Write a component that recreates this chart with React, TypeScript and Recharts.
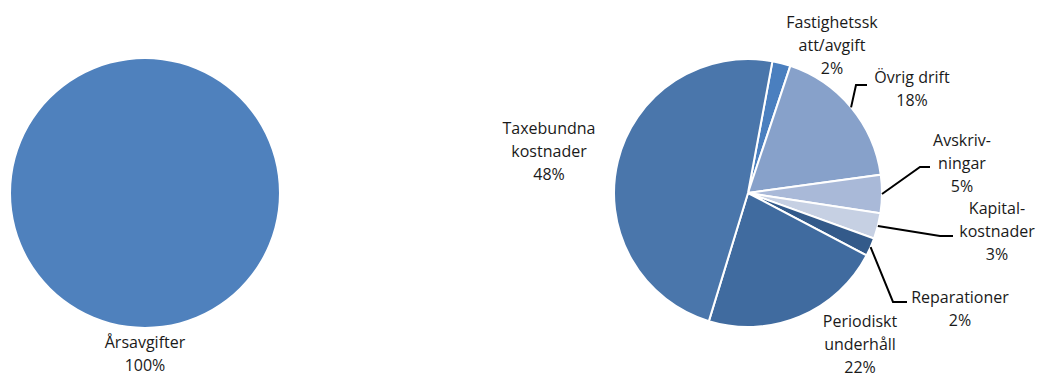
import React from 'react';
import { PieChart, Pie, Cell } from 'recharts';

// ---- Data ----
const incomeCategories = ['Årsavgifter'];
const incomeValues = [100];
const incomeLabelLines = [['Årsavgifter']];

const costCategories = [
  'Fastighetsskatt/avgift',
  'Övrig drift',
  'Avskrivningar',
  'Kapitalkostnader',
  'Reparationer',
  'Periodiskt underhåll',
  'Taxebundna kostnader',
];
const costValues = [2.2, 17.7, 4.6, 3.1, 2.2, 22.0, 48.2];
const costLabelLines = [
  ['Fastighetssk', 'att/avgift'],
  ['Övrig drift'],
  ['Avskriv-', 'ningar'],
  ['Kapital-', 'kostnader'],
  ['Reparationer'],
  ['Periodiskt', 'underhåll'],
  ['Taxebundna', 'kostnader'],
];

// ---- Style ----
const incomeColors = ['#4f81bd'];
const costColors = ['#4a7fbf', '#87a1ca', '#a9b9d8', '#c6d0e3', '#335a8a', '#406b9f', '#4a76ab'];

// label text positions relative to pie centre; elbow/end of leader line relative to pie centre
type Layout = { tx: number; ty: number; elbow?: [number, number]; end?: [number, number] };
const incomeLabelLayout: Layout[] = [{ tx: 0, ty: 149 }];
const costLabelLayout: Layout[] = [
  { tx: 84, ty: -171 },
  { tx: 164, ty: -116, elbow: [108, -108], end: [119, -108] },
  { tx: 214, ty: -53, elbow: [172, -26], end: [182, -26] },
  { tx: 249, ty: 15, elbow: [192, 43], end: [205, 43] },
  { tx: 212, ty: 104, elbow: [145, 109], end: [159, 109] },
  { tx: 112, ty: 128 },
  { tx: -199, ty: -65 },
];

const FONT = '"Open Sans", "DejaVu Sans", sans-serif';
const LINE_H = 23;
const RAD = Math.PI / 180;

const toData = (cats: string[], vals: number[]) => cats.map((name, i) => ({ name, value: vals[i] }));
const incomeData = toData(incomeCategories, incomeValues);
const costData = toData(costCategories, costValues);

const makeLabel = (layouts: Layout[], lines: string[][], values: number[]) => (props: any) => {
  const { cx, cy, midAngle, outerRadius, index } = props;
  const total = values.reduce((a, b) => a + b, 0);
  const pct = Math.round((values[index] / total) * 100);
  const lay = layouts[index];
  const x = cx + lay.tx;
  const y = cy + lay.ty;
  const textLines = [...lines[index], `${pct}%`];
  let leader = null;
  if (lay.elbow && lay.end) {
    const sx = cx + outerRadius * Math.cos(-midAngle * RAD);
    const sy = cy + outerRadius * Math.sin(-midAngle * RAD);
    const pts = `${sx},${sy} ${cx + lay.elbow[0]},${cy + lay.elbow[1]} ${cx + lay.end[0]},${cy + lay.end[1]}`;
    leader = <polyline points={pts} fill="none" stroke="#000" strokeWidth={2} />;
  }
  return (
    <g key={`lbl-${index}`}>
      {leader}
      <text x={x} y={y} textAnchor="middle" fill="#1a1a1a" fontSize={16} fontFamily={FONT}>
        {textLines.map((t, i) => (
          <tspan key={i} x={x} y={y + i * LINE_H} dominantBaseline="central">
            {t}
          </tspan>
        ))}
      </text>
    </g>
  );
};

export default function App() {
  return (
    <div style={{ position: 'absolute', left: 0, top: 0, background: '#fff' }}>
      <PieChart width={1044} height={376} margin={{ top: 0, right: 0, bottom: 0, left: 0 }}>
        <Pie
          data={incomeData}
          dataKey="value"
          nameKey="name"
          cx={145}
          cy={193}
          outerRadius={134}
          startAngle={90}
          endAngle={-270}
          stroke="none"
          isAnimationActive={false}
          label={makeLabel(incomeLabelLayout, incomeLabelLines, incomeValues)}
          labelLine={false}
        >
          {incomeData.map((_, i) => (
            <Cell key={i} fill={incomeColors[i]} />
          ))}
        </Pie>
        <Pie
          data={costData}
          dataKey="value"
          nameKey="name"
          cx={748}
          cy={193}
          outerRadius={134}
          startAngle={79.5}
          endAngle={-280.5}
          stroke="#ffffff"
          strokeWidth={2}
          isAnimationActive={false}
          label={makeLabel(costLabelLayout, costLabelLines, costValues)}
          labelLine={false}
        >
          {costData.map((_, i) => (
            <Cell key={i} fill={costColors[i]} />
          ))}
        </Pie>
      </PieChart>
    </div>
  );
}
